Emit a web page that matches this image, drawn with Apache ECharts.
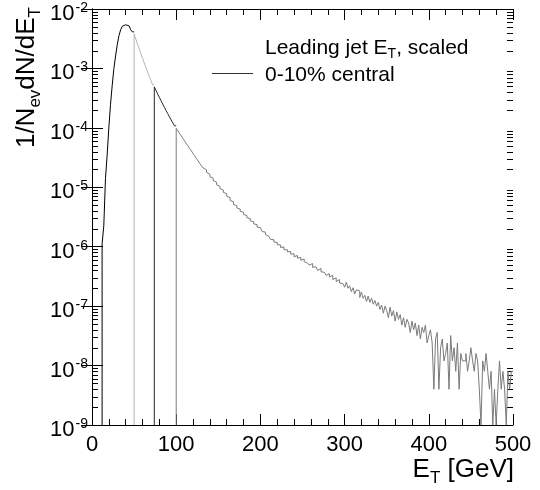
<!DOCTYPE html>
<html>
<head>
<meta charset="utf-8">
<script src="https://cdn.jsdelivr.net/npm/echarts@6/dist/echarts.min.js"></script>
<style>
  html, body { margin: 0; padding: 0; background: #fff; }
  #chart { width: 540px; height: 490px; }
</style>
</head>
<body>
<div id="chart"></div>
<script>
const FONT = "'Liberation Sans', Arial, sans-serif";

// histogram bins are 2 GeV wide, the curve is drawn in four pieces
const binWidth = 2;

// 12 - 50 GeV, black
const peakStart = 12;
const peakValues = [1.12e-6, 2.24e-6, 1.4e-5, 3.5e-5, 1.0e-4, 2.5e-4, 5.2e-4, 1.0e-3, 1.62e-3, 2.5e-3,
  3.55e-3, 4.47e-3, 5.13e-3, 5.43e-3, 5.5e-3, 5.2e-3, 5.05e-3, 4.47e-3, 4.12e-3];

// 50 - 74 GeV, light grey
const fallStart = 50;
const fallValues = [3.8e-3, 3.13e-3, 2.58e-3, 2.14e-3, 1.78e-3, 1.48e-3, 1.24e-3, 1.04e-3, 8.8e-4, 7.4e-4,
  6.25e-4, 5.3e-4];

// 74 - 100 GeV, black
const midStart = 74;
const midValues = [4.9e-4, 4.27e-4, 3.72e-4, 3.26e-4, 2.86e-4, 2.51e-4, 2.21e-4, 1.95e-4, 1.73e-4, 1.53e-4,
  1.36e-4, 1.21e-4, 1.08e-4];

// 100 - 500 GeV, grey
const tailStart = 100;
const tail100 = [9.85e-5, 8.95e-5, 8.02e-5, 7.35e-5, 6.6e-5, 6.05e-5, 5.42e-5, 4.97e-5, 4.48e-5, 4.1e-5,
  3.69e-5, 3.39e-5, 3.04e-5, 2.79e-5, 2.5e-5, 2.31e-5, 2.11e-5, 1.96e-5, 1.78e-5, 1.66e-5,
  1.51e-5, 1.42e-5, 1.29e-5, 1.22e-5, 1.10e-5, 1.04e-5, 9.5e-6, 9.0e-6, 8.2e-6, 7.8e-6,
  7.05e-6, 6.7e-6, 6.0e-6, 5.7e-6, 5.15e-6, 4.9e-6, 4.5e-6, 4.3e-6, 3.95e-6, 3.8e-6,
  3.48e-6, 3.35e-6, 3.08e-6, 2.98e-6, 2.72e-6, 2.64e-6, 2.42e-6, 2.36e-6, 2.15e-6, 2.09e-6];
const tail200 = [1.96e-6, 1.80e-6, 1.76e-6, 1.60e-6, 1.50e-6, 1.47e-6, 1.33e-6, 1.31e-6, 1.20e-6, 1.18e-6,
  1.08e-6, 1.07e-6, 9.7e-7, 9.9e-7, 8.9e-7, 8.9e-7, 8.2e-7, 8.3e-7, 7.5e-7, 7.6e-7,
  6.8e-7, 7.1e-7, 6.4e-7, 6.6e-7, 5.9e-7, 6.2e-7, 5.6e-7, 5.3e-7, 5.5e-7, 4.9e-7,
  5.2e-7, 4.5e-7, 4.6e-7, 4.6e-7, 4.0e-7, 4.3e-7, 3.8e-7, 3.7e-7, 3.9e-7, 3.3e-7,
  3.5e-7, 3.1e-7, 3.3e-7, 2.8e-7, 3.0e-7, 2.6e-7, 2.8e-7, 2.45e-7, 2.4e-7, 2.5e-7];
const tail300 = [2.08e-7, 2.52e-7, 2.0e-7, 2.2e-7, 1.76e-7, 2.04e-7, 1.6e-7, 1.88e-7, 1.8e-7, 1.4e-7,
  1.72e-7, 1.36e-7, 1.52e-7, 1.2e-7, 1.48e-7, 1.16e-7, 1.36e-7, 1.08e-7, 1.24e-7, 1.0e-7,
  1.16e-7, 8.8e-8, 1.04e-7, 7.6e-8, 1.0e-7, 8.4e-8, 6.4e-8, 9.6e-8, 6.8e-8, 8.4e-8,
  5.6e-8, 8.0e-8, 6.0e-8, 7.2e-8, 4.8e-8, 6.4e-8, 4.4e-8, 6.0e-8, 5.2e-8, 3.6e-8,
  5.6e-8, 4.0e-8, 5.2e-8, 3.2e-8, 4.8e-8, 2.8e-8, 4.4e-8, 3.6e-8, 4.8e-8, 2.4e-8];
const tail400 = [3.2e-8, 4e-8, 2.4e-8, 4e-9, 2.8e-8, 3.6e-8, 4e-9, 2e-8, 2.8e-8, 1.2e-8,
  1.6e-8, 2.4e-8, 4e-9, 3.2e-8, 1.2e-8, 2e-8, 8e-9, 2.4e-8, 4e-9, 1.6e-8,
  1.2e-8, 1.2e-8, 1.6e-8, 8e-9, 1.2e-8, 2e-8, 1.2e-8, 8e-9, 1.6e-8, 1.2e-8,
  4e-9, 0, 1.2e-8, 8e-9, 1.6e-8, 8e-9, 4e-9, 8e-9, 0, 4e-9,
  0, 4e-9, 1.2e-8, 4e-9, 8e-9, 4e-9, 0, 8e-9, 4e-9, 8e-9];
const tailValues = tail100.concat(tail200, tail300, tail400);

const xTickLabels = ['0', '100', '200', '300', '400', '500'];
const yMin = 1e-9, yMax = 1e-2;

// root style: each piece starts with a drop to the frame bottom,
// empty bins lie on the bottom
function histPoints(start, values) {
  const pts = [[start, yMin]];
  values.forEach((v, i) => {
    const y = v > 0 ? v : yMin;
    pts.push([start + i * binWidth, y], [start + (i + 1) * binWidth, y]);
  });
  return pts;
}

// log minor ticks at 2..9 of every decade
const yMinorTicks = [];
for (let e = -9; e < -2; e++) {
  for (let k = 2; k <= 9; k++) yMinorTicks.push([0, k * Math.pow(10, e)]);
}

function histSeries(start, values, color) {
  return {
    type: 'line',
    data: histPoints(start, values),
    showSymbol: false,
    symbol: 'none',
    clip: true,
    silent: true,
    lineStyle: { color: color, width: 1 },
    animation: false
  };
}

const axisLine = { show: true, lineStyle: { color: '#000', width: 1 } };

const chart = echarts.init(document.getElementById('chart'));
chart.setOption({
  animation: false,
  backgroundColor: '#fff',
  grid: { left: 92, right: 27, top: 9, bottom: 65, outerBoundsMode: 'none' },
  xAxis: [
    {
      type: 'value', min: 0, max: 500, interval: 100,
      axisLine: axisLine,
      axisTick: { inside: true, length: 11, lineStyle: { color: '#000' } },
      minorTick: { show: true, splitNumber: 5, length: 6, lineStyle: { color: '#000' } },
      splitLine: { show: false },
      axisLabel: {
        margin: 9, color: '#000', fontSize: 22, fontFamily: FONT,
        formatter: (v) => xTickLabels[Math.round(v / 100)]
      }
    },
    {
      type: 'value', min: 0, max: 500, interval: 100, position: 'top',
      axisLine: axisLine,
      axisTick: { inside: true, length: 11, lineStyle: { color: '#000' } },
      minorTick: { show: true, splitNumber: 5, length: 6, lineStyle: { color: '#000' } },
      splitLine: { show: false },
      axisLabel: { show: false }
    }
  ],
  yAxis: [
    {
      type: 'log', logBase: 10, min: yMin, max: yMax,
      axisLine: axisLine,
      axisTick: { inside: true, length: 11, lineStyle: { color: '#000' } },
      splitLine: { show: false },
      axisLabel: {
        margin: 4, color: '#000', fontFamily: FONT,
        formatter: (v) => '{b|10}{p|' + Math.round(Math.log10(v)) + '}',
        rich: {
          b: { fontSize: 22, fontFamily: FONT, color: '#000', lineHeight: 24, verticalAlign: 'top', padding: [6, 0, 0, 0] },
          p: { fontSize: 14, fontFamily: FONT, color: '#000', lineHeight: 14, verticalAlign: 'top', padding: [4, 0, 0, 1] }
        }
      }
    },
    {
      type: 'log', logBase: 10, min: yMin, max: yMax, position: 'right',
      axisLine: axisLine,
      axisTick: { inside: true, length: 11, lineStyle: { color: '#000' } },
      splitLine: { show: false },
      axisLabel: { show: false }
    }
  ],
  series: [
    histSeries(peakStart, peakValues, '#000000'),
    histSeries(fallStart, fallValues, '#b4b4b4'),
    histSeries(midStart, midValues, '#262626'),
    histSeries(tailStart, tailValues, '#7a7a7a'),
    {
      type: 'custom',
      silent: true,
      animation: false,
      data: yMinorTicks,
      renderItem(params, api) {
        const cs = params.coordSys;
        const y = Math.round(api.coord([0, api.value(1)])[1]) + 0.5;
        const st = { stroke: '#000', lineWidth: 1 };
        return {
          type: 'group',
          children: [
            { type: 'line', shape: { x1: cs.x, y1: y, x2: cs.x + 6, y2: y }, style: st },
            { type: 'line', shape: { x1: cs.x + cs.width, y1: y, x2: cs.x + cs.width - 6, y2: y }, style: st }
          ]
        };
      }
    }
  ],
  graphic: [
    {
      type: 'text', x: 265, y: 48,
      style: {
        text: 'Leading jet E{s|T}, scaled',
        fontSize: 21, fontFamily: FONT, fill: '#000', verticalAlign: 'middle',
        rich: {
          s: { fontSize: 14, fontFamily: FONT, lineHeight: 14, padding: [13, 0, 0, 0] }
        }
      }
    },
    {
      type: 'line',
      shape: { x1: 212, y1: 73.5, x2: 253, y2: 73.5 },
      style: { stroke: '#333', lineWidth: 1 }
    },
    {
      type: 'text', x: 265, y: 75,
      style: { text: '0-10% central', fontSize: 21, fontFamily: FONT, fill: '#000', verticalAlign: 'middle' }
    },
    {
      type: 'text', x: 514, y: 470,
      style: {
        text: 'E{s|T} [GeV]',
        fontSize: 26, fontFamily: FONT, fill: '#000', align: 'right', verticalAlign: 'middle',
        rich: {
          s: { fontSize: 17, fontFamily: FONT, lineHeight: 17, padding: [16, 0, 0, 0] }
        }
      }
    },
    {
      type: 'text', x: 27, y: 7, rotation: Math.PI / 2,
      style: {
        text: '1/N{s|ev}dN/dE{s|T}',
        fontSize: 26, fontFamily: FONT, fill: '#000', align: 'right', verticalAlign: 'middle',
        rich: {
          s: { fontSize: 17, fontFamily: FONT, lineHeight: 17, padding: [16, 0, 0, 0] }
        }
      }
    }
  ]
});
</script>
</body>
</html>
